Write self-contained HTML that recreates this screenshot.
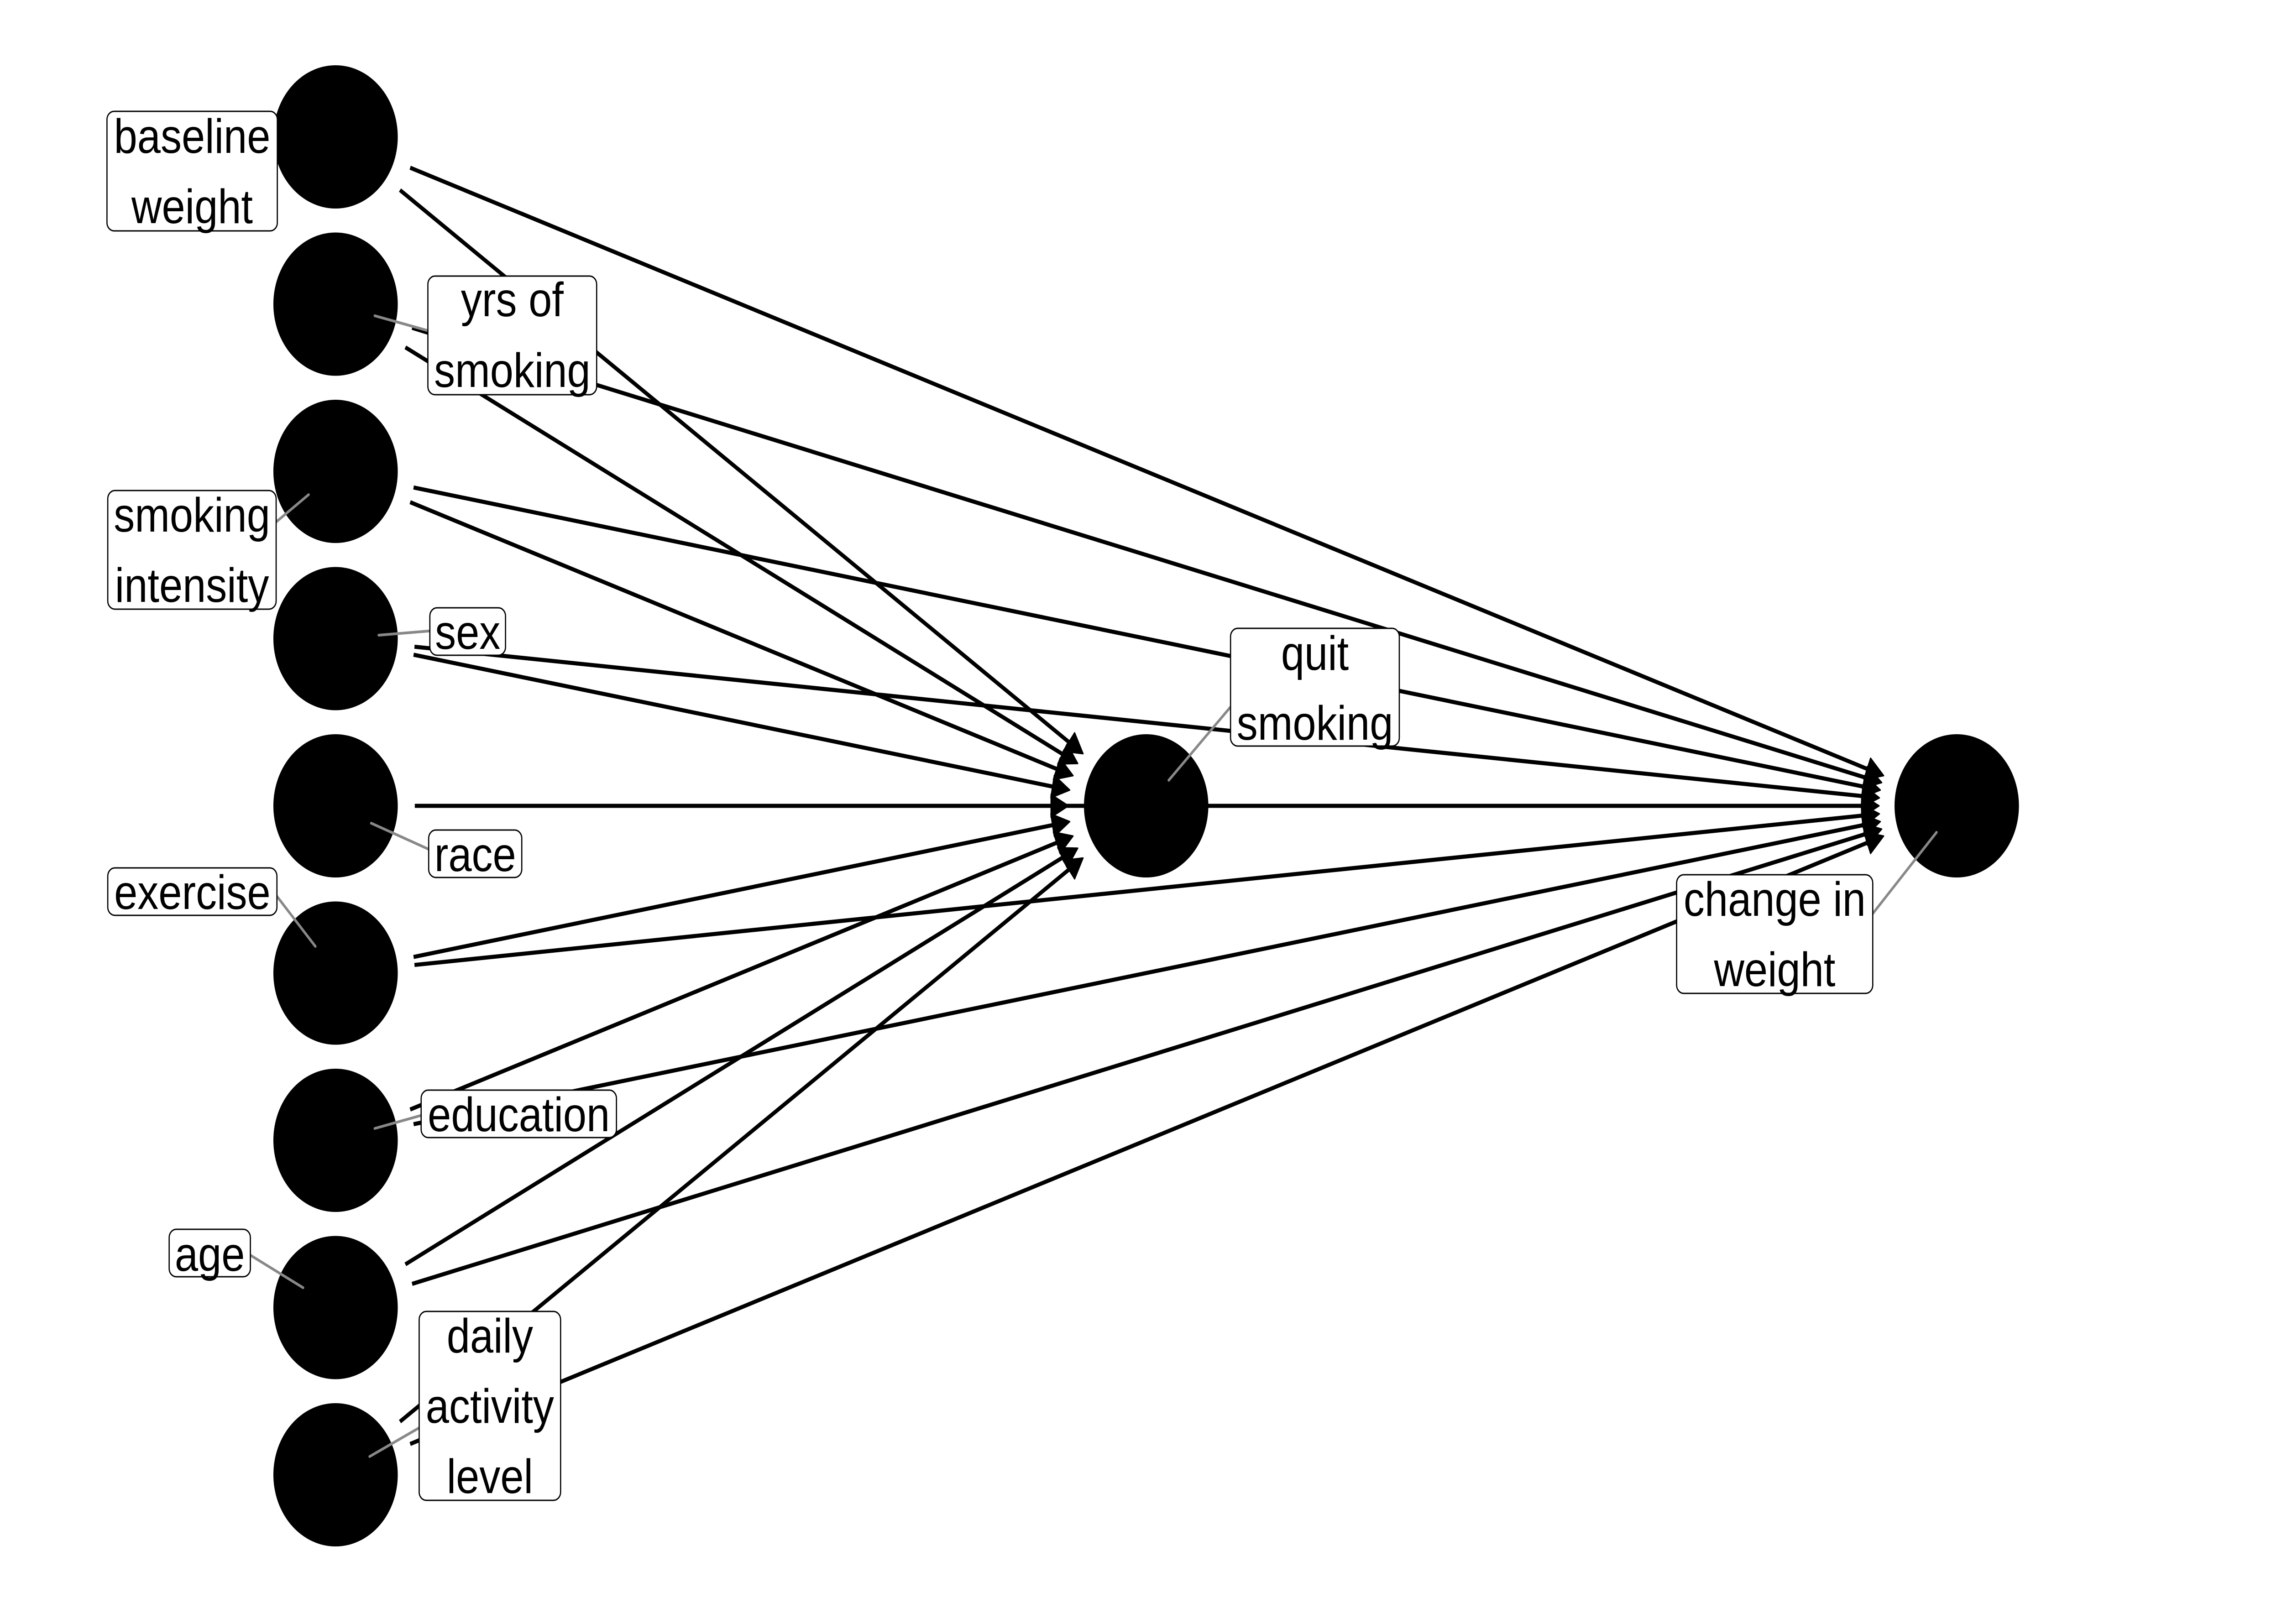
<!DOCTYPE html>
<html>
<head>
<meta charset="utf-8">
<style>
html,body{margin:0;padding:0;background:#fff;overflow:hidden;width:100%;height:100%;}
svg{display:block;width:100vw;height:100vh;}
text{font-family:"Liberation Sans", Arial, Helvetica, sans-serif;font-size:106px;fill:#000;text-anchor:middle;}
</style>
</head>
<body>
<svg xmlns="http://www.w3.org/2000/svg" viewBox="0 0 5760 3559" preserveAspectRatio="none">
<rect x="0" y="0" width="5760" height="3559" fill="#fff"/>
<!-- edges -->
<g stroke="#000" stroke-width="9" fill="none" stroke-linecap="butt">
<line x1="1009.6" y1="416.5" x2="2709.3" y2="1634.4"/>
<line x1="1035.3" y1="367.5" x2="4726.2" y2="1689.8"/>
<line x1="1023.2" y1="761.2" x2="2693.9" y2="1659.0"/>
<line x1="1040.2" y1="718.4" x2="4720.7" y2="1707.4"/>
<line x1="1035.3" y1="1100.5" x2="2680.2" y2="1689.8"/>
<line x1="1043.9" y1="1068.3" x2="4716.5" y2="1726.2"/>
<line x1="1043.9" y1="1434.8" x2="2670.5" y2="1726.2"/>
<line x1="1046.2" y1="1417.3" x2="4713.9" y2="1745.8"/>
<line x1="1047" y1="1766" x2="4713" y2="1766"/>
<line x1="1043.9" y1="2097.2" x2="2670.5" y2="1805.8"/>
<line x1="1046.2" y1="2114.7" x2="4713.9" y2="1786.2"/>
<line x1="1035.3" y1="2431.5" x2="2680.2" y2="1842.2"/>
<line x1="1043.9" y1="2463.7" x2="4716.5" y2="1805.8"/>
<line x1="1023.2" y1="2770.8" x2="2693.9" y2="1873.0"/>
<line x1="1040.2" y1="2813.6" x2="4720.7" y2="1824.6"/>
<line x1="1009.6" y1="3115.5" x2="2709.3" y2="1897.6"/>
<line x1="1035.3" y1="3164.5" x2="4726.2" y2="1842.2"/>
</g>
<!-- arrowheads -->
<g fill="#000" stroke="#000" stroke-width="3" stroke-linejoin="round">
<polygon points="2733.7,1651.8 2683.3,1646.5 2712.5,1605.9"/>
<polygon points="4754.5,1699.9 4704.7,1708.6 4721.5,1661.6"/>
<polygon points="2720.3,1673.2 2669.8,1674.4 2693.4,1630.4"/>
<polygon points="4749.7,1715.1 4700.7,1727.8 4713.7,1679.6"/>
<polygon points="2708.5,1699.9 2658.7,1708.6 2675.5,1661.6"/>
<polygon points="4746.1,1731.4 4698.4,1748.3 4707.2,1699.1"/>
<polygon points="2700.1,1731.4 2652.4,1748.3 2661.2,1699.1"/>
<polygon points="4743.8,1748.5 4697.8,1769.5 4702.2,1719.7"/>
<polygon points="2697,1766 2653,1791 2653,1741"/>
<polygon points="4743,1766 4699,1791 4699,1741"/>
<polygon points="2700.1,1800.6 2652.4,1783.7 2661.2,1832.9"/>
<polygon points="4743.8,1783.5 4697.8,1762.5 4702.2,1812.3"/>
<polygon points="2708.5,1832.1 2658.7,1823.4 2675.5,1870.4"/>
<polygon points="4746.1,1800.6 4698.4,1783.7 4707.2,1832.9"/>
<polygon points="2720.3,1858.8 2669.8,1857.6 2693.4,1901.6"/>
<polygon points="4749.7,1816.9 4700.7,1804.2 4713.7,1852.4"/>
<polygon points="2733.7,1880.2 2683.3,1885.5 2712.5,1926.1"/>
<polygon points="4754.5,1832.1 4704.7,1823.4 4721.5,1870.4"/>
</g>
<!-- nodes -->
<g fill="#000">
<circle cx="847" cy="300" r="157"/>
<circle cx="847" cy="666.5" r="157"/>
<circle cx="847" cy="1033" r="157"/>
<circle cx="847" cy="1399.5" r="157"/>
<circle cx="847" cy="1766" r="157"/>
<circle cx="847" cy="2132.5" r="157"/>
<circle cx="847" cy="2499" r="157"/>
<circle cx="847" cy="2865.5" r="157"/>
<circle cx="847" cy="3232" r="157"/>
<circle cx="2893" cy="1766" r="157"/>
<circle cx="4939" cy="1766" r="157"/>
</g>
<!-- label leader segments -->
<g stroke="#888888" stroke-width="6" stroke-linecap="round" fill="none">
<line x1="946" y1="692" x2="1090" y2="727"/>
<line x1="779" y1="1084" x2="690" y2="1149"/>
<line x1="956" y1="1392" x2="1095" y2="1382"/>
<line x1="937" y1="1804" x2="1092" y2="1865"/>
<line x1="796" y1="2074" x2="690" y2="1954"/>
<line x1="946" y1="2473" x2="1073" y2="2442"/>
<line x1="765" y1="2822" x2="625" y2="2747"/>
<line x1="933" y1="3192" x2="1068" y2="3124"/>
<line x1="2950" y1="1710" x2="3114" y2="1541"/>
<line x1="4888" y1="1824" x2="4720" y2="2010"/>
</g>
<!-- label boxes -->
<g fill="#fff" stroke="#000" stroke-width="3">
<rect x="270" y="244" width="430" height="262" rx="18" ry="18"/>
<rect x="1080" y="605" width="426" height="260" rx="18" ry="18"/>
<rect x="272" y="1075" width="425" height="260" rx="18" ry="18"/>
<rect x="1085" y="1332" width="191" height="104" rx="18" ry="18"/>
<rect x="1082" y="1819" width="235" height="104" rx="18" ry="18"/>
<rect x="272" y="1902" width="427" height="104" rx="18" ry="18"/>
<rect x="1063" y="2389" width="493" height="104" rx="18" ry="18"/>
<rect x="427" y="2694" width="205" height="104" rx="18" ry="18"/>
<rect x="1058" y="2874" width="357" height="414" rx="18" ry="18"/>
<rect x="3106" y="1377" width="426" height="258" rx="18" ry="18"/>
<rect x="4232" y="1917" width="495" height="260" rx="18" ry="18"/>
</g>
<!-- label text -->
<g>
<text x="485" y="335">baseline</text>
<text x="485" y="489">weight</text>
<text x="1293" y="693">yrs of</text>
<text x="1293" y="848">smoking</text>
<text x="484.5" y="1165">smoking</text>
<text x="484.5" y="1319">intensity</text>
<text x="1180.5" y="1422">sex</text>
<text x="1199.5" y="1909">race</text>
<text x="485.5" y="1992">exercise</text>
<text x="1309.5" y="2479">education</text>
<text x="529.5" y="2785">age</text>
<text x="1236.5" y="2964">daily</text>
<text x="1236.5" y="3118">activity</text>
<text x="1236.5" y="3272">level</text>
<text x="3319" y="1468">quit</text>
<text x="3319" y="1621">smoking</text>
<text x="4479.5" y="2007">change in</text>
<text x="4479.5" y="2161">weight</text>
</g>
</svg>
</body>
</html>
